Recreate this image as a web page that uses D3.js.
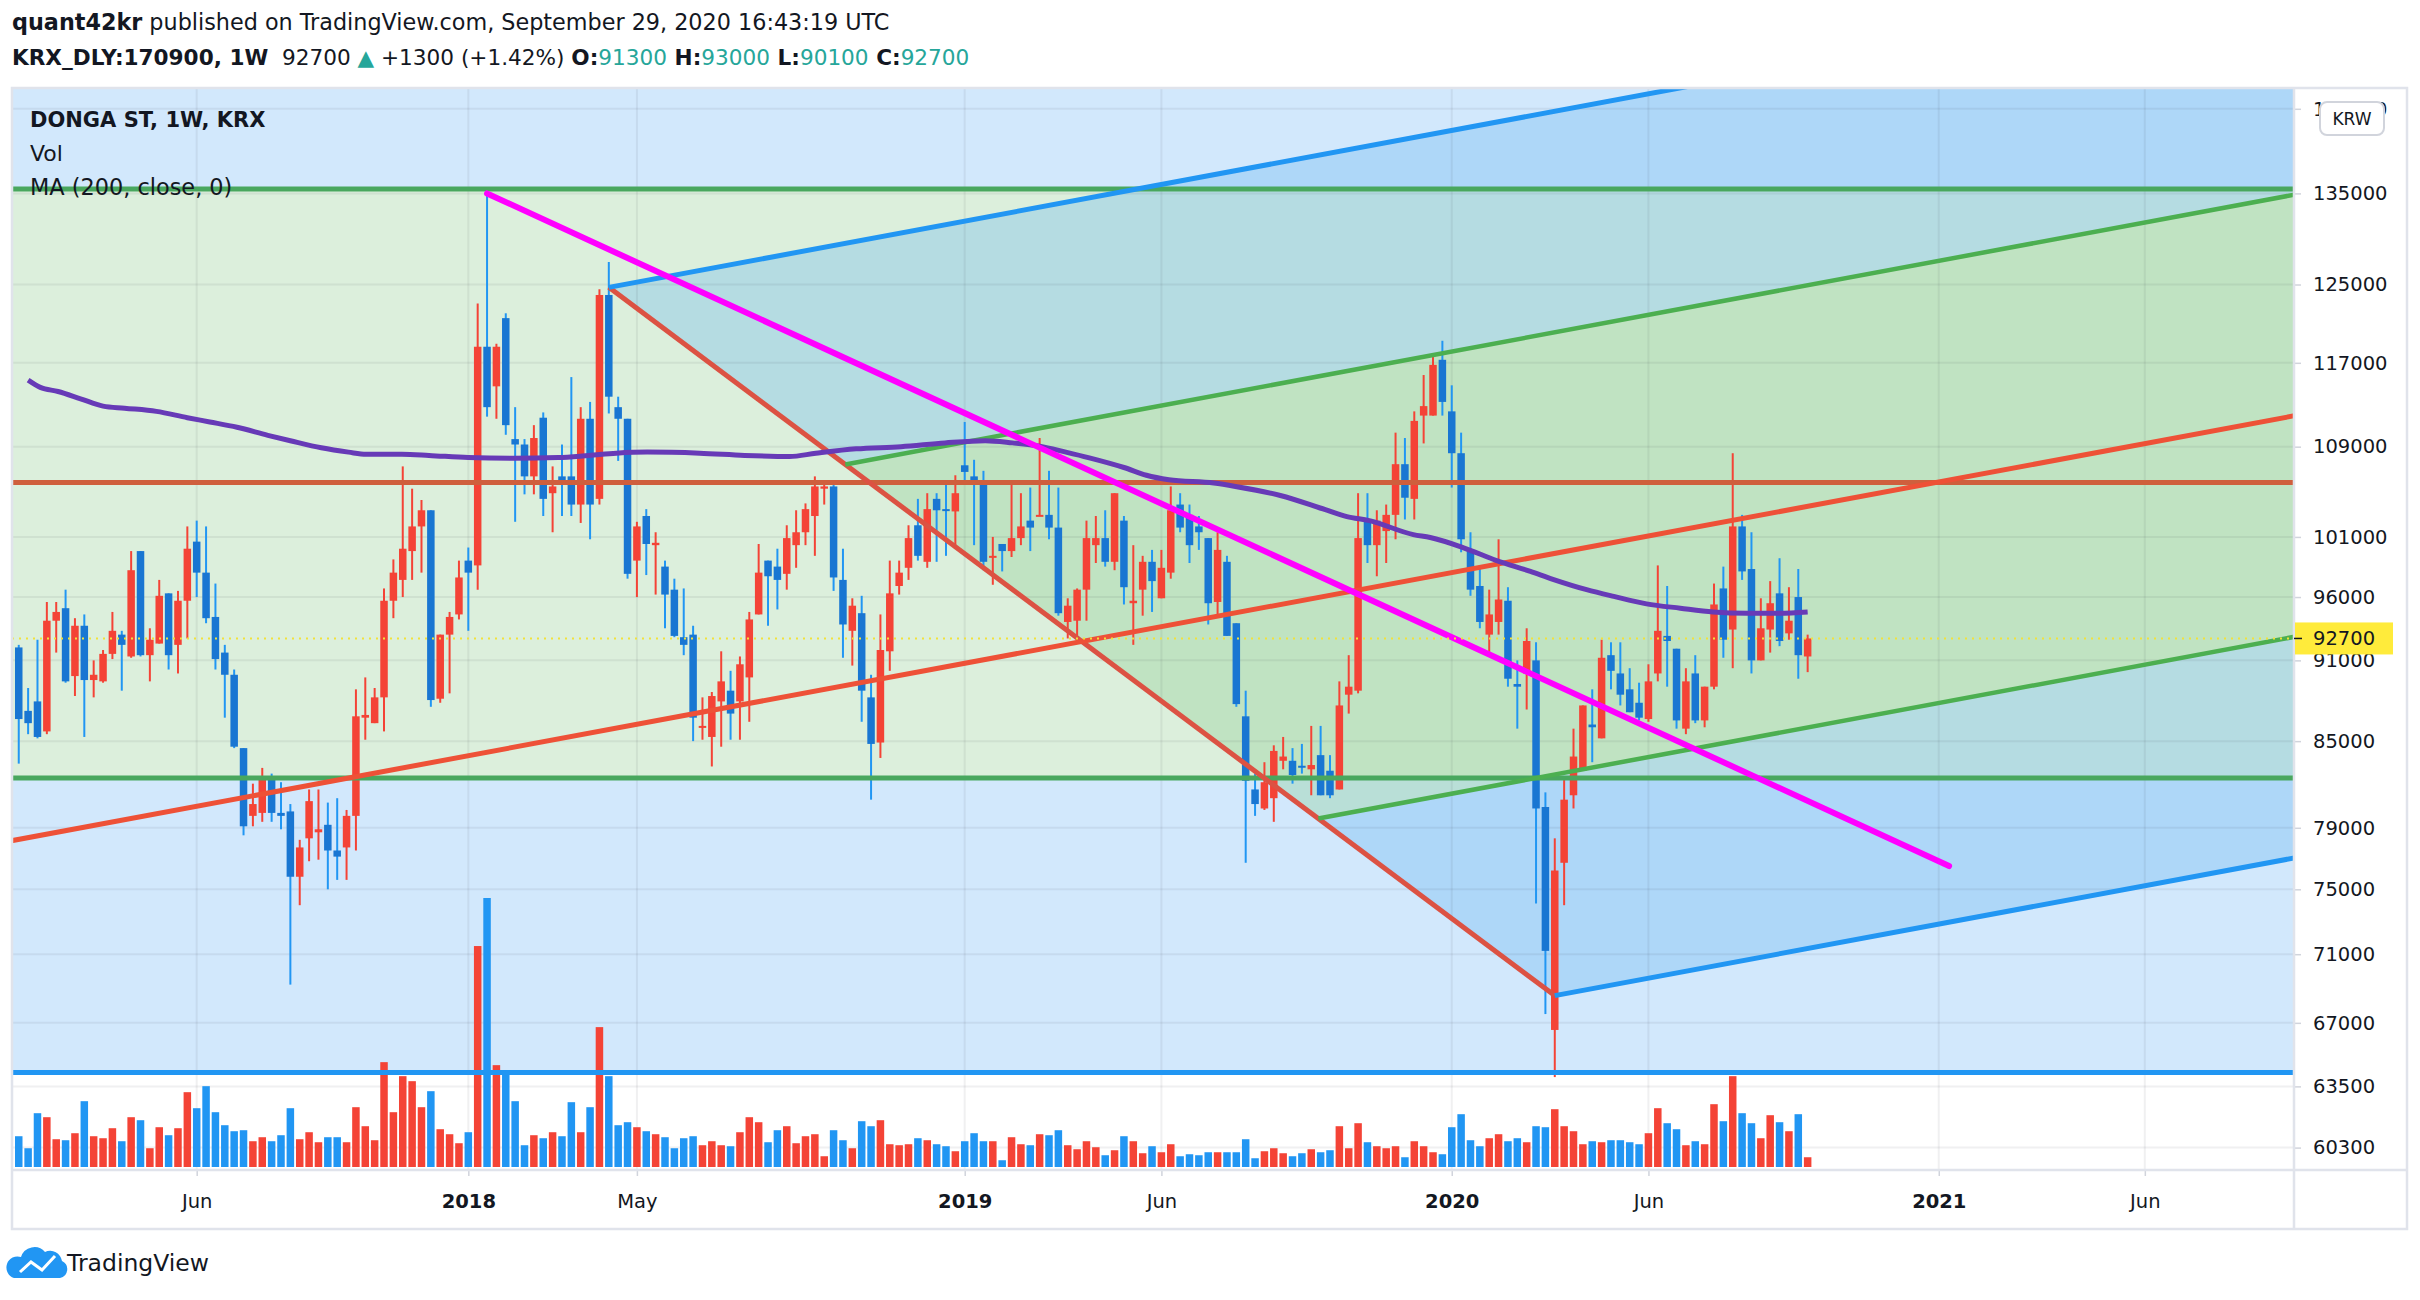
<!DOCTYPE html>
<html><head><meta charset="utf-8">
<script src="https://cdn.jsdelivr.net/npm/d3@7"></script>
<style>
html,body{margin:0;padding:0;background:#fff;}
svg{display:block;}
text{font-family:"DejaVu Sans",sans-serif;fill:#131722;white-space:pre;}
</style></head>
<body>
<svg id="chart" width="2420" height="1300"></svg>
<script>
// ---------------- DATA (weekly bars, KRX:170900) ----------------
const open = [92000,87200,87900,85700,94100,95100,89800,93700,89500,89400,
91500,93000,91300,99800,91400,92300,96300,92200,95700,100600,
98000,94400,91600,89900,84500,79800,80000,82500,80000,80100,
75800,78300,78700,79200,77500,77700,79800,86700,86300,88200,
95700,97400,99800,101900,103300,88100,93000,94600,99000,98600,
118600,114700,121500,109700,109200,106300,111700,104800,106300,106300,
103800,111600,104300,123900,112700,111600,99000,102800,100300,98500,
96600,92800,93000,86000,85300,87900,88700,87900,89700,94600,
99000,98500,97900,100300,101400,102800,105200,105400,97400,93300,
94700,88200,84900,91700,96900,98400,102000,98900,104300,103400,
103200,107300,106300,105800,99300,100400,99800,100900,102400,102800,
102900,101800,94000,94100,96600,100300,100900,98900,102400,95500,
96600,98900,95900,98000,103800,102900,101900,100900,95600,98900,
93900,86800,81600,80300,81000,83600,83600,83250,83000,84000,
82900,81600,88400,88700,102400,100300,101500,102900,107400,104300,
111900,111900,117300,112300,108400,99900,96900,93000,94000,95700,
89200,90000,91000,80400,66600,76700,81200,82900,86200,85200,
91400,90000,88800,87800,86600,90000,92900,91900,85900,90000,
86500,89000,96700,93400,101900,98300,91000,93400,96300,93100,
96000,91300];
const high = [92200,88900,92600,95600,95600,96600,94300,94600,91000,91800,
94800,93300,99800,99800,93500,97400,96300,96500,101900,102400,
101900,97100,92200,90300,84500,82000,83100,82700,82100,80600,
78200,81600,81600,80700,81000,80200,88800,89700,88900,96700,
99100,107200,105200,104200,103300,93000,94800,99000,100100,123000,
135000,118900,122000,112700,109700,111000,112200,107200,109200,115600,
112700,113200,124500,127400,113700,111600,102300,103400,101400,99000,
97500,96700,93700,88200,88600,91700,90200,91300,94800,100400,
99000,100000,102000,103300,103900,106300,105700,105800,100000,95900,
96100,89900,94600,99000,99000,102000,104300,104800,104800,105800,
106400,111300,107800,106800,101000,100400,105800,104800,105300,109800,
106800,105300,95900,96700,102400,102800,103300,104800,102800,100300,
99400,99900,99900,105400,104800,103800,102800,100900,101400,99400,
93900,88700,82700,83500,84700,85300,84500,84800,86100,86100,
84000,89400,91400,104800,104800,103300,103800,110300,109800,112300,
115800,117700,119200,114800,110300,101400,98400,96600,100800,96800,
91000,93500,92400,81400,78300,82500,85900,87600,88800,92600,
92400,92400,90400,89300,90700,98600,96900,91900,90400,91400,
89000,97100,98500,108400,102900,101400,95900,97300,99200,96800,
98300,93000];
const low = [83400,85500,85200,85500,91600,89300,88300,85300,88200,89300,
91100,88700,91200,91300,89400,92300,90300,90000,92700,96000,
93900,90300,86700,84500,78500,79100,79400,79400,78900,69200,
74000,76800,76900,75000,75600,75600,77500,85100,86300,85700,
94300,96000,97400,98000,87500,87800,88500,94200,93300,96600,
111800,111600,110100,102300,104700,104700,102800,101400,102800,102800,
102200,100800,103800,112100,107700,97500,96000,97800,96200,93500,
92800,91400,85000,85100,83200,84600,85100,85100,86400,94600,
93700,95000,96600,98400,100300,99400,103800,96500,91200,90600,
86400,80900,83800,90200,96200,97400,99000,98400,98900,99400,
100300,105800,100300,98200,97000,98100,99300,100300,99800,102800,
100800,94500,92700,92700,94100,98800,98500,98200,95400,92200,
94500,94800,95900,97500,101400,98800,99900,93800,94500,92900,
87500,76700,79800,80200,79400,83000,82000,82700,81200,81200,
81000,81600,87000,88500,98800,97700,98800,100800,102500,102500,
109300,111900,111900,105300,99700,96100,93500,91300,93000,89000,
85900,87300,74100,67500,64000,74000,80300,82900,83500,85200,
88800,87600,87100,86500,86400,89400,89000,85900,85500,86300,
86000,88800,91200,90400,97400,90000,91000,91600,92100,92600,
89600,90100];
const close = [86600,86300,85300,94100,94800,89400,93700,89500,89900,91500,
93300,92200,98200,91400,92600,96100,91400,95700,100000,98000,
94300,91100,89900,84600,79100,80600,82400,80000,79800,75800,
77700,80800,78900,77500,77100,79800,86800,86900,88200,95700,
98000,100000,101900,103300,88000,93000,94400,97600,98000,118600,
112700,118600,111000,109200,106300,109800,104300,105400,105700,103800,
111600,103800,123900,113700,111600,97900,101900,100400,100500,96200,
92900,92200,86700,86100,88300,89400,87000,90700,94200,98000,
97700,97400,100900,101400,103400,105400,105400,97600,93800,95300,
88700,84800,91800,96300,98000,100900,99400,103400,103300,103300,
104800,106700,105700,98900,99400,99800,100900,101900,101800,102900,
101800,94700,95300,96600,100900,100900,98900,104800,96800,95700,
98900,97300,98400,103300,101800,100300,101400,95500,99900,92900,
87700,82200,80600,82100,84300,83900,82600,83150,83300,81200,
81200,87600,89000,100900,100300,102400,102900,107400,104400,111400,
112800,116800,113200,108400,100800,96600,94000,94600,95800,89600,
89000,92500,80300,71200,76200,80900,83900,87600,86000,91200,
90200,88400,87100,86700,89400,93300,92500,86500,89400,86500,
89000,95400,92600,101900,98100,91000,93500,95500,92500,94100,
91400,92700];
// volume, thousand shares
const volume = [123,75,215,199,111,107,135,263,123,115,
155,103,199,187,75,159,127,155,299,235,
323,219,167,143,147,103,119,103,127,235,
111,139,99,119,119,99,239,163,107,419,
219,363,343,239,303,151,131,95,139,883,
1075,407,387,263,87,127,115,139,123,259,
139,239,559,363,167,179,159,143,131,119,
75,115,123,87,103,87,83,139,199,179,
99,147,163,95,123,131,43,147,107,75,
183,163,187,91,87,91,115,107,91,83,
63,103,135,103,103,27,119,91,87,131,
127,147,87,71,103,79,47,67,123,103,
55,83,59,91,43,51,47,59,59,59,
59,111,35,63,75,55,43,55,71,59,
67,163,75,175,99,83,75,83,39,103,
83,59,51,159,211,107,83,115,131,103,
115,99,163,159,231,163,143,91,103,99,
107,107,99,91,135,235,175,151,87,103,
91,251,183,363,215,175,115,207,179,143,
211,39];
// MA(200, close): bar position and value
const maIdx = [1,2.3,4.2,6.6,9,11.3,14.7,18,20.4,23.3,26.6,29,32.3,35.2,37.1,40.9,43.8,48,52.8,57.6,60.9,63.8,67.1,72.7,77.5,82.3,85.1,89.4,94.2,98.9,103.2,106.1,109,111.8,114.2,118,120.4,122.8,127.6,129.9,134.7,139.5,141.8,144.2,148.9,150.7,154.2,157.8,161.4,163.8,167.4,170.3,173.8,177.4,180.9,184.5,188,191];
const maVal = [115300,114600,114200,113500,112800,112600,112300,111700,111300,110800,110050,109550,108900,108500,108300,108300,108200,108000,107950,108000,108200,108400,108500,108400,108200,108100,108400,108800,109000,109350,109550,109350,109050,108500,108000,107100,106400,106000,105700,105400,104600,103350,102750,102400,101200,100950,100100,99000,98100,97450,96600,96050,95450,95100,94800,94700,94700,94800];
// time axis
const tickIdx = [19,48,66,101,122,153,174,205,227];
const tickLabels = ["Jun","2018","May","2019","Jun","2020","Jun","2021","Jun"];
const tickBold = [false,true,false,true,false,true,false,true,false];
// price axis
const priceTicks = [145000,135000,125000,117000,109000,101000,96000,91000,85000,79000,75000,71000,67000,63500,60300];
const lastPrice = 92700;
// drawings (anchor: bar index, price)
const hGreenTop = 135500, hGreenBottom = 82400, hOrange = 105750, hBlue = 64250;
const trendIdx = [50, 206.1], trendPrice = [135000, 76490];           // magenta trend line
const forkIdx = [-2, 63, 164], forkPrice = [78000, 124700, 68560];    // pitchfork anchors
const forkLevels = [0.25, 0.75];

// ---------------- LAYOUT ----------------
const P = {l:12, r:2294, t:88, b:1170};
const svg = d3.select("#chart");
const x = d3.scaleLinear().domain([0, 191]).range([18.75, 18.75 + 191*9.366]);
const y = d3.scaleLog().domain([60300, 135000]).range([1147.6, 193.4]);
const yv = d3.scaleLinear().domain([0, d3.max(volume)]).range([1167, 1167-269]);

svg.append("rect").attr("width",2420).attr("height",1300).attr("fill","#fff");
const defs = svg.append("defs");
defs.append("clipPath").attr("id","clip").append("rect")
  .attr("x",P.l).attr("y",P.t).attr("width",P.r-P.l).attr("height",P.b-P.t);
defs.append("clipPath").attr("id","hidden145").append("rect")
  .attr("x",P.r).attr("y",P.t).attr("width",2407-P.r).attr("height",1229-P.t);

const g = svg.append("g").attr("clip-path","url(#clip)");

// background rectangles (drawings sent to back)
g.append("rect").attr("x",P.l).attr("y",P.t).attr("width",P.r-P.l)
  .attr("height", y(hBlue)-P.t).attr("fill","#d2e8fc");
g.append("rect").attr("x",P.l).attr("y",y(hGreenTop)).attr("width",P.r-P.l)
  .attr("height", y(hGreenBottom)-y(hGreenTop)).attr("fill","#dcefdc");

// pitchfork geometry (screen space)
const fp = forkIdx.map((d,i)=>[x(d), y(forkPrice[i])]);
const mid = [(fp[1][0]+fp[2][0])/2, (fp[1][1]+fp[2][1])/2];
const slope = (mid[1]-fp[0][1])/(mid[0]-fp[0][0]);
const XR = P.r + 20;
const endOf = p => [XR, p[1] + slope*(XR-p[0])];
const lerp = (a,b,t)=>[a[0]+(b[0]-a[0])*t, a[1]+(b[1]-a[1])*t];
const q1 = lerp(fp[1], fp[2], forkLevels[0]);
const q2 = lerp(fp[1], fp[2], forkLevels[1]);
const poly = pts => "M" + pts.map(p=>p.join(",")).join("L") + "Z";
g.append("path").attr("d", poly([fp[1], endOf(fp[1]), endOf(q1), q1])).attr("fill","rgba(100,180,240,0.32)");
g.append("path").attr("d", poly([q1, endOf(q1), endOf(q2), q2])).attr("fill","rgba(140,205,145,0.35)");
g.append("path").attr("d", poly([q2, endOf(q2), endOf(fp[2]), fp[2]])).attr("fill","rgba(100,180,240,0.32)");

// grid
const grid = g.append("g").attr("stroke","rgba(42,46,57,0.07)").attr("stroke-width",2);
priceTicks.forEach(v=>grid.append("line").attr("x1",P.l).attr("x2",P.r).attr("y1",y(v)).attr("y2",y(v)));
tickIdx.forEach(v=>grid.append("line").attr("x1",x(v)).attr("x2",x(v)).attr("y1",P.t).attr("y2",P.b));

// volume
const idx = d3.range(open.length);
const isUp = i => close[i] >= open[i];
g.append("g").selectAll("rect").data(idx).join("rect")
  .attr("x", i=>x(i)-3.75).attr("width",7.5)
  .attr("y", i=>yv(volume[i])).attr("height", i=>yv(0)-yv(volume[i]))
  .attr("fill", i=>isUp(i) ? "#f44336" : "#2196f3");

// candles
const cg = g.append("g");
cg.selectAll("line").data(idx).join("line")
  .attr("x1", i=>x(i)).attr("x2", i=>x(i))
  .attr("y1", i=>y(high[i])).attr("y2", i=>y(low[i]))
  .attr("stroke", i=>isUp(i) ? "#f44336" : "#2196f3").attr("stroke-width",2);
cg.selectAll("rect").data(idx).join("rect")
  .attr("x", i=>x(i)-3.75).attr("width",7.5)
  .attr("y", i=>y(Math.max(open[i],close[i])))
  .attr("height", i=>Math.max(2, y(Math.min(open[i],close[i]))-y(Math.max(open[i],close[i]))))
  .attr("fill", i=>isUp(i) ? "#f44336" : "#1976d2");

// horizontal lines
const hline = (v,c,w)=>g.append("line").attr("x1",P.l).attr("x2",P.r).attr("y1",y(v)).attr("y2",y(v)).attr("stroke",c).attr("stroke-width",w);
hline(hGreenTop,"#49a75e",5);
hline(hGreenBottom,"#49a75e",5);
hline(hOrange,"#cf5f3d",5);
hline(hBlue,"#2196f3",5);

// pitchfork lines
const seg = (a,b,c,w)=>g.append("line").attr("x1",a[0]).attr("y1",a[1]).attr("x2",b[0]).attr("y2",b[1]).attr("stroke",c).attr("stroke-width",w);
seg(fp[1], fp[2], "#dc5243", 5);
seg(q1, endOf(q1), "#4caf50", 4.5);
seg(q2, endOf(q2), "#4caf50", 4.5);
seg(fp[1], endOf(fp[1]), "#2196f3", 5);
seg(fp[2], endOf(fp[2]), "#2196f3", 5);
seg(fp[0], endOf(fp[0]), "#ee5137", 5);

// MA line
g.append("path").datum(d3.range(maIdx.length))
  .attr("d", d3.line().x(i=>x(maIdx[i])).y(i=>y(maVal[i])).curve(d3.curveMonotoneX))
  .attr("fill","none").attr("stroke","#673ab7").attr("stroke-width",5);

// magenta trend line
g.append("line").attr("x1",x(trendIdx[0])).attr("y1",y(trendPrice[0]))
  .attr("x2",x(trendIdx[1])).attr("y2",y(trendPrice[1]))
  .attr("stroke","#ff00ff").attr("stroke-width",6).attr("stroke-linecap","round");

// last price dotted line
g.append("line").attr("x1",P.l).attr("x2",P.r).attr("y1",y(lastPrice)).attr("y2",y(lastPrice))
  .attr("stroke","#f2e23a").attr("stroke-width",2).attr("stroke-dasharray","2,5");

// ---------------- AXES ----------------
const yAxis = d3.axisRight(y).tickValues(priceTicks).tickFormat(d3.format("d")).tickSize(7).tickPadding(12);
const ya = svg.append("g").attr("transform",`translate(${P.r},0)`).call(yAxis);
ya.select(".domain").remove();
ya.selectAll(".tick line").attr("stroke","#d1d4dc").attr("stroke-width",1.5);
ya.selectAll(".tick text").attr("font-family","DejaVu Sans").attr("font-size",19.5).attr("fill","#131722");

const xAxis = d3.axisBottom(x).tickValues(tickIdx).tickFormat((d,i)=>tickLabels[i]).tickSize(6).tickPadding(18);
const xa = svg.append("g").attr("transform",`translate(0,${P.b})`).call(xAxis);
xa.select(".domain").remove();
xa.selectAll(".tick line").attr("stroke","#d1d4dc").attr("stroke-width",1.5);
xa.selectAll(".tick text").attr("font-family","DejaVu Sans").attr("font-size",19.5).attr("fill","#131722")
  .attr("font-weight",(d,i)=>tickBold[i]?"bold":"normal");

// frame & separators
svg.append("line").attr("x1",P.l).attr("x2",2407).attr("y1",P.b).attr("y2",P.b).attr("stroke","#e0e3eb").attr("stroke-width",2.5);
svg.append("line").attr("x1",P.r).attr("x2",P.r).attr("y1",P.t).attr("y2",1229).attr("stroke","#e0e3eb").attr("stroke-width",2.5);
svg.append("rect").attr("x",P.l).attr("y",P.t).attr("width",2407-P.l).attr("height",1229-P.t)
  .attr("fill","none").attr("stroke","#e0e3eb").attr("stroke-width",2.5);

// last price label
const yl = y(lastPrice);
svg.append("rect").attr("x",P.r+1).attr("y",yl-16).attr("width",98).attr("height",32).attr("fill","#ffeb3b");
svg.append("line").attr("x1",P.r).attr("x2",P.r+8).attr("y1",yl).attr("y2",yl).attr("stroke","#131722").attr("stroke-width",1.5);
svg.append("text").attr("x",P.r+19).attr("y",yl).attr("dy","0.35em").attr("font-size",19.5).text(d3.format("d")(lastPrice));

// currency button (covers most of the top price label, as in the original)
svg.append("rect").attr("x",2320).attr("y",102).attr("width",64).attr("height",33).attr("rx",7)
  .attr("fill","#fff").attr("stroke","#d1d4dc").attr("stroke-width",2);
svg.append("text").attr("x",2352).attr("y",119).attr("dy","0.35em").attr("text-anchor","middle").attr("font-size",17).text("KRW");

// ---------------- TEXTS ----------------
const h1 = svg.append("text").attr("x",12).attr("y",30).attr("font-size",22.3);
h1.append("tspan").attr("font-weight","bold").text("quant42kr");
h1.append("tspan").text(" published on TradingView.com, September 29, 2020 16:43:19 UTC");

const teal = "#26a69a";
const h2 = svg.append("text").attr("x",12).attr("y",65).attr("font-size",21.6);
h2.append("tspan").attr("font-weight","bold").text("KRX_DLY:170900, 1W");
h2.append("tspan").text("  92700 ");
h2.append("tspan").style("fill",teal).text("▲");
h2.append("tspan").text(" +1300 (+1.42%) ");
[["O:","91300"],["H:","93000"],["L:","90100"],["C:","92700"]].forEach((p,k)=>{
  h2.append("tspan").attr("font-weight","bold").text((k?" ":"")+p[0]);
  h2.append("tspan").style("fill",teal).text(p[1]);
});

svg.append("text").attr("x",30).attr("y",127).attr("font-size",21).attr("font-weight","bold").text("DONGA ST, 1W, KRX");
svg.append("text").attr("x",30).attr("y",161).attr("font-size",22).text("Vol");
svg.append("text").attr("x",30).attr("y",195).attr("font-size",22.4).text("MA (200, close, 0)");

// TradingView logo
const lg = svg.append("g");
lg.append("path").attr("fill","#2196f3")
  .attr("d","M14,1278 L60,1278 A9,9 0 0 0 62,1261 A12,12 0 0 0 45,1252 A14,14 0 0 0 21,1257 A11,11 0 0 0 14,1278 Z");
lg.append("polyline").attr("points","20,1272 31,1262 42,1270 55,1256").attr("fill","none")
  .attr("stroke","#fff").attr("stroke-width",3);
svg.append("text").attr("x",67).attr("y",1271).attr("font-size",23.5).text("TradingView");
</script>
</body></html>
